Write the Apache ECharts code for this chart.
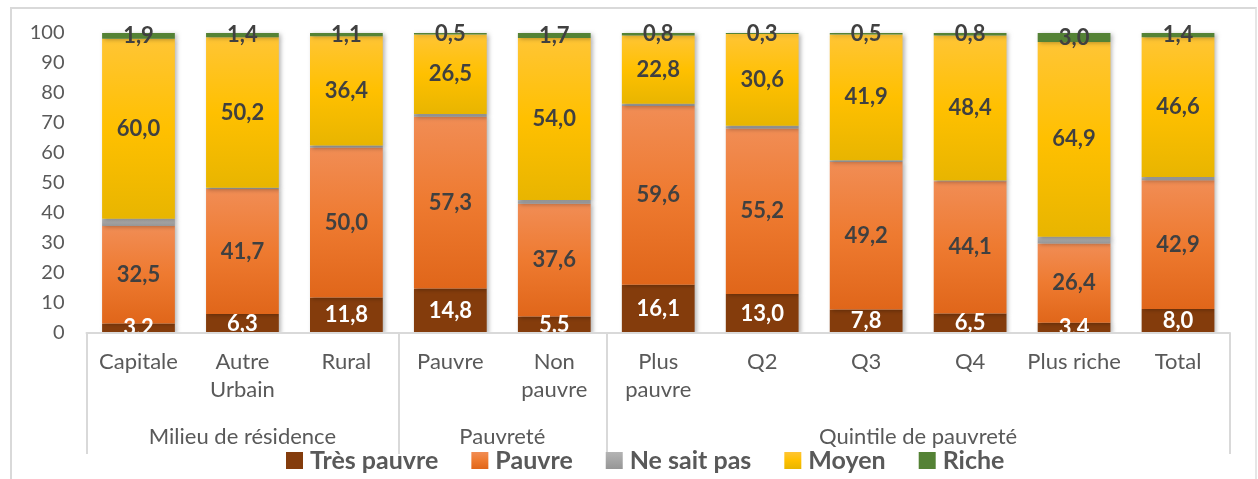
<!DOCTYPE html>
<html>
<head>
<meta charset="utf-8">
<script src="https://cdn.jsdelivr.net/npm/echarts@6/dist/echarts.min.js"></script>
<style>
  html, body { margin: 0; padding: 0; background: #ffffff; }
  #frame { position: absolute; left: 10px; top: 7px; width: 1247px; height: 480px;
           border-left: 2px solid #d9d9d9; border-top: 2px solid #d9d9d9; border-right: 2px solid #e6e6e6; box-sizing: border-box; }
  #chart { position: absolute; left: 0; top: 0; width: 1258px; height: 479px; }
</style>
</head>
<body>
<div id="frame"></div>
<div id="chart"></div>
<script>
// Categories (newline = wrapped label) and their groups
const categories = ['Capitale', 'Autre\nUrbain', 'Rural', 'Pauvre', 'Non\npauvre',
  'Plus\npauvre', 'Q2', 'Q3', 'Q4', 'Plus riche', 'Total'];
const groupNames = ['Milieu de résidence', 'Pauvreté', 'Quintile de pauvreté'];
const groupSizes = [3, 2, 6];

// Stacked shares (%) per category
const tresPauvre = [3.2, 6.3, 11.8, 14.8, 5.5, 16.1, 13.0, 7.8, 6.5, 3.4, 8.0];
const pauvre     = [32.5, 41.7, 50.0, 57.3, 37.6, 59.6, 55.2, 49.2, 44.1, 26.4, 42.9];
const neSaitPas  = [2.4, 0.4, 0.7, 0.9, 1.2, 0.7, 0.9, 0.6, 0.2, 2.3, 1.1];
const moyen      = [60.0, 50.2, 36.4, 26.5, 54.0, 22.8, 30.6, 41.9, 48.4, 64.9, 46.6];
const riche      = [1.9, 1.4, 1.1, 0.5, 1.7, 0.8, 0.3, 0.5, 0.8, 3.0, 1.4];

const yTicks = [0, 10, 20, 30, 40, 50, 60, 70, 80, 90, 100];

const FONT = 'Lato, "Open Sans", sans-serif';

function vGrad(top, mid, bottom) {
  return new echarts.graphic.LinearGradient(0, 0, 0, 1, [
    { offset: 0, color: top }, { offset: 0.5, color: mid }, { offset: 1, color: bottom }
  ]);
}

const fmt = p => p.value.toFixed(1).replace('.', ',');

function makeSeries(name, data, color, labelColor, showLabel) {
  return {
    name: name,
    type: 'bar',
    stack: 'total',
    data: data,
    barCategoryGap: '30%',
    itemStyle: {
      color: color,
      shadowColor: 'rgba(0,0,0,0.28)',
      shadowBlur: 4,
      shadowOffsetX: 2,
      shadowOffsetY: 1
    },
    label: {
      show: showLabel,
      position: 'inside',
      formatter: fmt,
      color: labelColor,
      fontFamily: FONT,
      fontWeight: 'bold',
      fontSize: 22
    },
    emphasis: { disabled: true }
  };
}

// Group boundaries and centres, in category-index units
const bounds = [-0.5];
const centres = [];
groupSizes.forEach(n => {
  const start = bounds[bounds.length - 1];
  centres.push(start + n / 2);
  bounds.push(start + n);
});

const chart = echarts.init(document.getElementById('chart'), null, { renderer: 'canvas' });

chart.setOption({
  animation: false,
  backgroundColor: 'transparent',
  grid: { left: 86.5, right: 28, top: 33, bottom: 146, containLabel: false },
  legend: {
    z: 20,
    bottom: 1,
    left: 281,
    itemWidth: 17,
    itemHeight: 17,
    itemGap: 33,
    icon: 'rect',
    textStyle: { fontFamily: FONT, fontWeight: 'bold', fontSize: 25, color: '#595959', padding: [0, 0, 0, 2] },
    data: ['Très pauvre', 'Pauvre', 'Ne sait pas', 'Moyen', 'Riche']
  },
  xAxis: [
    {
      type: 'category',
      z: 10,
      data: categories,
      axisLine: { show: true, lineStyle: { color: '#d9d9d9', width: 2 } },
      axisTick: { show: false },
      axisLabel: {
        interval: 0,
        margin: 15,
        color: '#595959',
        fontFamily: FONT,
        fontSize: 22,
        lineHeight: 28,
        verticalAlign: 'top'
      }
    },
    {
      // Second level of the category axis: group separators and names
      type: 'value',
      z: 10,
      position: 'bottom',
      min: bounds[0],
      max: bounds[bounds.length - 1],
      axisLine: { show: false },
      splitLine: { show: false },
      axisTick: {
        show: true,
        customValues: bounds,
        length: 121,
        lineStyle: { color: '#d9d9d9', width: 2 }
      },
      axisLabel: {
        customValues: centres,
        formatter: v => groupNames[centres.indexOf(v)] || '',
        margin: 93,
        color: '#595959',
        fontFamily: FONT,
        fontSize: 22,
        verticalAlign: 'top'
      }
    }
  ],
  yAxis: {
    type: 'value',
    min: yTicks[0],
    max: yTicks[yTicks.length - 1],
    interval: 10,
    axisLine: { show: false },
    axisTick: { show: false },
    splitLine: { show: false },
    axisLabel: { margin: 22, color: '#595959', fontFamily: FONT, fontSize: 20 }
  },
  series: [
    makeSeries('Très pauvre', tresPauvre, '#843c0c', '#ffffff', true),
    makeSeries('Pauvre', pauvre, vGrad('#f18d55', '#ee7a30', '#e0661a'), '#404040', true),
    makeSeries('Ne sait pas', neSaitPas, vGrad('#b4b4b4', '#a5a5a5', '#969696'), '#404040', false),
    makeSeries('Moyen', moyen, vGrad('#ffc535', '#ffc000', '#e8b500'), '#404040', true),
    makeSeries('Riche', riche, '#548235', '#404040', true)
  ]
});

// White panel under the category axis, so labels of thin bottom segments stay inside the plot
const x0 = chart.convertToPixel({ xAxisIndex: 1 }, bounds[0]);
const x1 = chart.convertToPixel({ xAxisIndex: 1 }, bounds[bounds.length - 1]);
const yBase = chart.convertToPixel({ yAxisIndex: 0 }, yTicks[0]);
chart.setOption({
  graphic: [{
    type: 'rect',
    z: 5,
    silent: true,
    shape: { x: x0, y: yBase + 1, width: x1 - x0, height: 90 },
    style: { fill: '#ffffff' }
  }]
});
</script>
</body>
</html>
